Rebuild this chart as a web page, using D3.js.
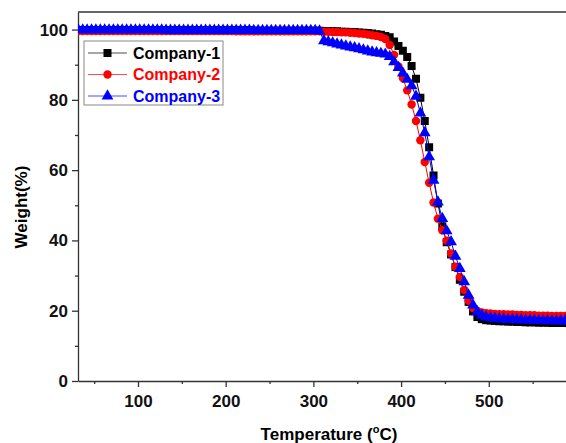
<!DOCTYPE html>
<html>
<head>
<meta charset="utf-8">
<script src="https://cdn.jsdelivr.net/npm/d3@7"></script>
<style>
  body { margin: 0; background: #fff; }
  svg { display: block; font-family: Arial, "Liberation Sans", sans-serif; }
  .axis path, .axis line { stroke: #333; stroke-width: 1.3; }
  .axis text { font-size: 17px; font-weight: bold; fill: #111; }
</style>
</head>
<body>
<div id="chart"></div>
<script>
// temperature in C, one sample every 5 degrees
var temps = [32,37,42,47,52,57,62,67,72,77,82,87,92,97,102,107,112,117,122,127,
  132,137,142,147,152,157,162,167,172,177,182,187,192,197,202,207,212,217,222,227,
  232,237,242,247,252,257,262,267,272,277,282,287,292,297,302,307,312,317,322,327,
  332,337,342,347,352,357,362,367,372,377,382,387,392,397,402,407,412,417,422,427,
  432,437,442,447,452,457,462,467,472,477,482,487,492,497,502,507,512,517,522,527,
  532,537,542,547,552,557,562,567,572,577,582,587,592,597,602];

// weight (%)
var company1 = [99.9,99.9,99.9,99.9,99.9,99.9,99.9,99.9,99.9,99.9,99.9,99.9,99.9,99.9,99.9,99.9,99.9,99.9,99.9,99.9,
  99.8,99.8,99.8,99.8,99.8,99.8,99.8,99.8,99.8,99.8,99.8,99.8,99.8,99.8,99.8,99.8,99.8,99.8,99.8,99.8,
  99.7,99.7,99.7,99.7,99.7,99.7,99.7,99.7,99.7,99.7,99.7,99.7,99.7,99.7,99.7,99.7,
  99.6,99.6,99.5,99.5,99.4,99.4,99.3,99.3,
  99.2,99.1,99.0,98.9,98.7,98.5,98.2,97.8,96.6,95.3,94.0,92.2,89.6,86.0,80.6,74.0,66.5,58.5,50.5,44.0,
  39.5,36.0,32.4,28.8,25.4,22.5,19.8,18.2,17.6,17.3,17.2,17.1,17.0,17.0,16.9,16.9,16.8,16.8,16.7,16.7,
  16.7,16.6,16.6,16.6,16.5,16.5,16.5,16.5,16.4,16.4,16.4];

var company2 = [99.6,99.6,99.6,99.6,99.6,99.6,99.6,99.6,99.6,99.6,99.6,99.6,99.6,99.6,99.6,99.6,99.6,99.6,
  99.6,99.6,99.6,99.6,99.6,99.6,99.6,99.6,99.6,99.6,99.6,99.6,99.6,99.6,99.6,99.6,99.6,99.6,
  99.5,99.5,99.5,99.5,99.5,99.5,99.5,99.5,99.5,99.5,99.5,99.5,99.5,99.5,99.5,99.5,99.5,99.5,99.5,99.5,
  99.4,99.4,99.3,99.3,99.2,99.2,
  99.1,99.0,98.9,98.8,98.6,98.4,98.2,97.9,97.3,95.6,92.8,89.5,86.2,82.7,78.7,74.0,68.5,62.3,56.4,50.8,
  46.2,42.9,39.9,36.3,32.5,29.6,25.9,22.8,20.8,19.9,19.5,19.3,19.2,19.1,19.0,19.0,18.9,18.9,18.8,18.8,
  18.7,18.7,18.7,18.6,18.6,18.6,18.5,18.5,18.5,18.5,18.4,18.4,18.4];

var company3 = [99.9,99.9,99.9,99.9,99.9,99.9,99.9,99.9,99.9,99.9,99.9,99.9,99.9,99.9,99.9,99.9,99.9,99.9,99.9,99.9,
  99.8,99.8,99.8,99.8,99.8,99.8,99.8,99.8,99.8,99.8,99.8,99.8,99.8,99.8,99.8,99.8,99.8,99.8,99.8,99.8,
  99.7,99.7,99.7,99.7,99.7,99.7,99.7,99.7,99.7,99.7,99.7,99.7,99.7,99.7,99.7,
  99.6,
  96.8,96.5,96.2,95.9,95.6,95.3,95.0,94.8,94.5,94.2,93.9,93.6,93.4,93.2,93.0,
  92.3,90.8,89.2,87.6,85.8,84.0,81.0,76.2,70.6,63.8,57.1,50.9,46.2,42.7,39.6,35.5,32.0,28.2,24.4,21.6,
  19.7,18.7,18.2,18.0,17.8,17.7,17.6,17.5,17.5,17.4,17.4,17.3,17.3,
  17.3,17.2,17.2,17.2,17.1,17.1,17.1,17.1,17.0,17.0,17.0];

var seriesNames = ["Company-1", "Company-2", "Company-3"];
var seriesColors = ["#000000", "#ff0000", "#0000ff"];
var seriesSymbols = [d3.symbolSquare, d3.symbolCircle, d3.symbolTriangle];

var xMajor = [100, 200, 300, 400, 500];
var xMinor = [50, 150, 250, 350, 450, 550];
var yMajor = [0, 20, 40, 60, 80, 100];
var yMinor = [10, 30, 50, 70, 90];

(function () {
    var W = 566, H = 443;
    var mLeft = 78, mTop = 12, mBottom = 381;

    // 0.877 px per degree, axis starts a bit above 30
    var x = d3.scaleLinear().domain([31.6, 610]).range([mLeft, mLeft + 578.4 * 0.877]);
    var y = d3.scaleLinear().domain([0, 105]).range([mBottom, mTop]);

    var svg = d3.select("#chart").append("svg")
        .attr("width", W)
        .attr("height", H);

    svg.append("defs").append("clipPath")
        .attr("id", "clip")
        .append("rect")
        .attr("x", mLeft)
        .attr("y", mTop)
        .attr("width", x.range()[1] - mLeft)
        .attr("height", mBottom - mTop);

    // frame top
    svg.append("line")
        .attr("x1", mLeft).attr("x2", x.range()[1])
        .attr("y1", mTop).attr("y2", mTop)
        .attr("stroke", "#333").attr("stroke-width", 1.5);

    // axes
    svg.append("g")
        .attr("class", "axis")
        .attr("transform", "translate(0," + mBottom + ")")
        .call(d3.axisBottom(x).tickValues(xMinor).tickSize(3).tickFormat(""))
        .select(".domain").remove();

    svg.append("g")
        .attr("class", "axis")
        .attr("transform", "translate(0," + mBottom + ")")
        .call(d3.axisBottom(x).tickValues(xMajor).tickSizeInner(6).tickSizeOuter(0).tickPadding(8));

    svg.append("g")
        .attr("class", "axis")
        .attr("transform", "translate(" + mLeft + ",0)")
        .call(d3.axisLeft(y).tickValues(yMinor).tickSize(3).tickFormat(""))
        .select(".domain").remove();

    svg.append("g")
        .attr("class", "axis")
        .attr("transform", "translate(" + mLeft + ",0)")
        .call(d3.axisLeft(y).tickValues(yMajor).tickSizeInner(6).tickSizeOuter(0).tickPadding(4));

    // curves
    var allSeries = [company1, company2, company3];
    var plot = svg.append("g").attr("clip-path", "url(#clip)");

    var line = d3.line()
        .x(function (d, i) { return x(temps[i]); })
        .y(function (d) { return y(d); });

    var symbolSizes = [64, 56, 60];

    allSeries.forEach(function (vals, s) {
        plot.append("path")
            .attr("d", line(vals))
            .attr("fill", "none")
            .attr("stroke", seriesColors[s])
            .attr("stroke-width", 1);

        plot.selectAll(".m" + s)
            .data(vals)
            .enter().append("path")
            .attr("class", "m" + s)
            .attr("transform", function (d, i) { return "translate(" + x(temps[i]) + "," + y(d) + ")"; })
            .attr("d", d3.symbol().type(seriesSymbols[s]).size(symbolSizes[s]))
            .attr("fill", seriesColors[s]);
    });

    // legend
    var lg = svg.append("g");
    lg.append("rect")
        .attr("x", 84).attr("y", 41)
        .attr("width", 139).attr("height", 64)
        .attr("fill", "#fff")
        .attr("stroke", "#888").attr("stroke-width", 1);

    seriesNames.forEach(function (name, s) {
        var ly = 53 + s * 21.5;
        lg.append("line")
            .attr("x1", 88).attr("x2", 127)
            .attr("y1", ly).attr("y2", ly)
            .attr("stroke", seriesColors[s]).attr("stroke-width", 1)
            .attr("stroke-opacity", 0.7);
        lg.append("path")
            .attr("transform", "translate(107.5," + ly + ")")
            .attr("d", d3.symbol().type(seriesSymbols[s]).size(symbolSizes[s]))
            .attr("fill", seriesColors[s]);
        lg.append("text")
            .attr("x", 133).attr("y", ly)
            .attr("dy", "0.36em")
            .attr("font-size", 16).attr("font-weight", "bold")
            .attr("fill", seriesColors[s])
            .text(name);
    });

    // axis titles
    svg.append("text")
        .attr("transform", "translate(27,207) rotate(-90)")
        .attr("text-anchor", "middle")
        .attr("font-size", 17).attr("font-weight", "bold")
        .text("Weight(%)");

    var xt = svg.append("text")
        .attr("x", 329).attr("y", 440)
        .attr("text-anchor", "middle")
        .attr("font-size", 17).attr("font-weight", "bold");
    xt.append("tspan").text("Temperature (");
    xt.append("tspan").attr("font-size", 11).attr("dy", -7).text("o");
    xt.append("tspan").attr("dy", 7).text("C)");
})();
</script>
</body>
</html>
